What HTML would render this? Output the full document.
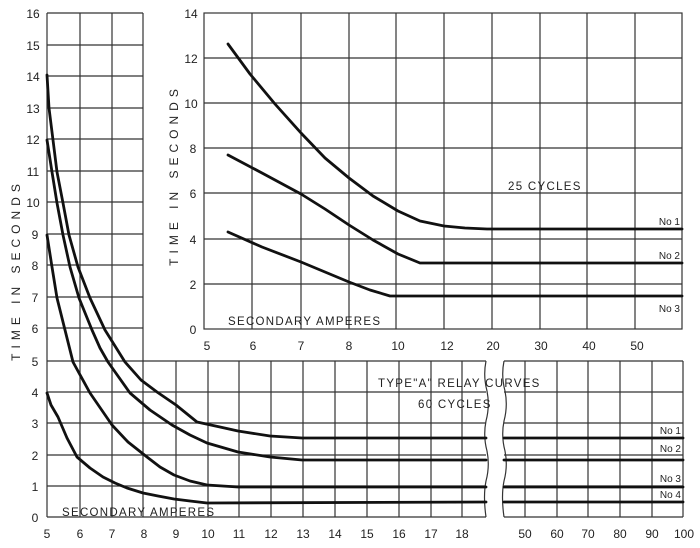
<!DOCTYPE html>
<html><head><meta charset="utf-8"><style>
html,body{margin:0;padding:0;background:#fff}
svg{display:block}
text{font-family:"Liberation Sans",sans-serif;fill:#222}
</style></head><body>
<svg width="700" height="548" viewBox="0 0 700 548" xmlns="http://www.w3.org/2000/svg">
<rect width="700" height="548" fill="#fff"/>
<g stroke="#333" stroke-width="1.2" fill="none">
<line x1="47" y1="13" x2="47" y2="517"/>
<line x1="80" y1="13" x2="80" y2="517"/>
<line x1="112" y1="13" x2="112" y2="517"/>
<line x1="143" y1="13" x2="143" y2="517"/>
<line x1="47" y1="13" x2="143" y2="13"/>
<line x1="47" y1="45" x2="143" y2="45"/>
<line x1="47" y1="76" x2="143" y2="76"/>
<line x1="47" y1="108" x2="143" y2="108"/>
<line x1="47" y1="139" x2="143" y2="139"/>
<line x1="47" y1="171" x2="143" y2="171"/>
<line x1="47" y1="202" x2="143" y2="202"/>
<line x1="47" y1="234" x2="143" y2="234"/>
<line x1="47" y1="265" x2="143" y2="265"/>
<line x1="47" y1="297" x2="143" y2="297"/>
<line x1="47" y1="328" x2="143" y2="328"/>
<line x1="47" y1="361" x2="486" y2="361"/>
<line x1="47" y1="392" x2="486" y2="392"/>
<line x1="47" y1="423" x2="486" y2="423"/>
<line x1="47" y1="455" x2="486" y2="455"/>
<line x1="47" y1="486" x2="486" y2="486"/>
<line x1="47" y1="517" x2="486" y2="517"/>
<line x1="504" y1="361" x2="683" y2="361"/>
<line x1="504" y1="392" x2="683" y2="392"/>
<line x1="504" y1="423" x2="683" y2="423"/>
<line x1="504" y1="455" x2="683" y2="455"/>
<line x1="504" y1="486" x2="683" y2="486"/>
<line x1="504" y1="517" x2="683" y2="517"/>
<line x1="176" y1="361" x2="176" y2="517"/>
<line x1="208" y1="361" x2="208" y2="517"/>
<line x1="239" y1="361" x2="239" y2="517"/>
<line x1="271" y1="361" x2="271" y2="517"/>
<line x1="303" y1="361" x2="303" y2="517"/>
<line x1="335" y1="361" x2="335" y2="517"/>
<line x1="367" y1="361" x2="367" y2="517"/>
<line x1="399" y1="361" x2="399" y2="517"/>
<line x1="431" y1="361" x2="431" y2="517"/>
<line x1="462" y1="361" x2="462" y2="517"/>
<line x1="525" y1="361" x2="525" y2="517"/>
<line x1="557" y1="361" x2="557" y2="517"/>
<line x1="588" y1="361" x2="588" y2="517"/>
<line x1="620" y1="361" x2="620" y2="517"/>
<line x1="652" y1="361" x2="652" y2="517"/>
<line x1="683" y1="361" x2="683" y2="517"/>
<path d="M486 361 q-3 15 1 30 q3 15 -1 30 q-3 15 1 30 q3 15 -1 30 q-3 15 0 36"/>
<path d="M504 361 q-3 15 1 30 q3 15 -1 30 q-3 15 1 30 q3 15 -1 30 q-3 15 0 36"/>
<rect x="204" y="13" width="478" height="316"/>
<line x1="252" y1="13" x2="252" y2="329"/>
<line x1="301" y1="13" x2="301" y2="329"/>
<line x1="349" y1="13" x2="349" y2="329"/>
<line x1="396" y1="13" x2="396" y2="329"/>
<line x1="444" y1="13" x2="444" y2="329"/>
<line x1="492" y1="13" x2="492" y2="329"/>
<line x1="540" y1="13" x2="540" y2="329"/>
<line x1="587" y1="13" x2="587" y2="329"/>
<line x1="635" y1="13" x2="635" y2="329"/>
<line x1="204" y1="58" x2="682" y2="58"/>
<line x1="204" y1="103" x2="682" y2="103"/>
<line x1="204" y1="148" x2="682" y2="148"/>
<line x1="204" y1="193" x2="682" y2="193"/>
<line x1="204" y1="239" x2="682" y2="239"/>
<line x1="204" y1="284" x2="682" y2="284"/>
</g>
<g stroke="#111" stroke-width="2.8" fill="none" stroke-linejoin="round" stroke-linecap="round">
<polyline points="47,75 49,108 53,140 57,172 63,203 69,235 78,267 90,298 105,330 125,362 141,380 157,392 176,405 197,422 220,427 238,431 270,436 302,438 486,438"/>
<line x1="504" y1="438" x2="683" y2="438"/>
<polyline points="47,140 52,172 57,203 63,235 70,267 79,298 92,330 100,348 108,362 130,393 150,410 172,425 190,435 207,443 238,452 270,457 302,460 486,460"/>
<line x1="504" y1="460" x2="683" y2="460"/>
<polyline points="47,235 52,267 57,298 65,330 73,362 90,393 112,425 128,442 147,457 160,467 174,475 190,481 207,485 238,487 486,487"/>
<line x1="504" y1="487" x2="683" y2="487"/>
<polyline points="47,393 51,405 58,417 67,438 77,457 90,468 103,477 115,483 127,488 143,493 158,496 174,499 190,501 207,503 486,502"/>
<line x1="504" y1="502" x2="683" y2="502"/>
<polyline points="228,44 250,74 275,104 301,133 325,158 349,178 373,196 398,211 420,221 444,226 465,228 487,229 682,229"/>
<polyline points="228,155 262,173 301,194 325,209 349,225 373,240 398,254 420,263 682,263"/>
<polyline points="228,232 262,247 301,262 325,272 349,282 370,290 390,296 682,296"/>
</g>
<g font-size="12" text-anchor="middle">
<text x="33" y="18">16</text><text x="33" y="50">15</text><text x="33" y="81">14</text><text x="33" y="113">13</text>
<text x="33" y="144">12</text><text x="33" y="176">11</text><text x="33" y="207">10</text><text x="35" y="239">9</text>
<text x="35" y="270">8</text><text x="35" y="302">7</text><text x="35" y="333">6</text><text x="35" y="366">5</text>
<text x="35" y="397">4</text><text x="35" y="428">3</text><text x="35" y="460">2</text><text x="35" y="491">1</text><text x="35" y="522">0</text>
<text x="47" y="538">5</text><text x="80" y="538">6</text><text x="112" y="538">7</text><text x="144" y="538">8</text>
<text x="176" y="538">9</text><text x="208" y="538">10</text><text x="239" y="538">11</text><text x="271" y="538">12</text>
<text x="303" y="538">13</text><text x="335" y="538">14</text><text x="367" y="538">15</text><text x="399" y="538">16</text>
<text x="431" y="538">17</text><text x="462" y="538">18</text>
<text x="525" y="538">50</text><text x="557" y="538">60</text><text x="588" y="538">70</text><text x="620" y="538">80</text>
<text x="652" y="538">90</text><text x="684" y="538">100</text>
<text x="191" y="18">14</text><text x="191" y="63">12</text><text x="191" y="108">10</text><text x="193" y="153">8</text>
<text x="193" y="198">6</text><text x="193" y="244">4</text><text x="193" y="289">2</text><text x="193" y="334">0</text>
<text x="207" y="350">5</text><text x="253" y="350">6</text><text x="301" y="350">7</text><text x="349" y="350">8</text>
<text x="398" y="350">10</text><text x="447" y="350">12</text><text x="493" y="350">20</text><text x="541" y="350">30</text>
<text x="589" y="350">40</text><text x="637" y="350">50</text>
</g>
<g font-size="11.5" letter-spacing="1.3">
<text x="62" y="516">SECONDARY  AMPERES</text>
<text x="228" y="325">SECONDARY  AMPERES</text>
<text x="378" y="387">TYPE"A" RELAY CURVES</text>
<text x="418" y="408">60 CYCLES</text>
<text x="508" y="190">25 CYCLES</text>
</g>
<g font-size="10" text-anchor="end">
<text x="680" y="225">No 1</text><text x="680" y="259">No 2</text><text x="680" y="312">No 3</text>
<text x="681" y="434">No 1</text><text x="681" y="452">No 2</text><text x="681" y="482">No 3</text><text x="681" y="498">No 4</text>
</g>
<text font-size="12" letter-spacing="5" text-anchor="middle" transform="translate(20,270) rotate(-90)">TIME  IN  SECONDS</text>
<text font-size="12" letter-spacing="5" text-anchor="middle" transform="translate(178,175) rotate(-90)">TIME  IN  SECONDS</text>
</svg>
</body></html>
